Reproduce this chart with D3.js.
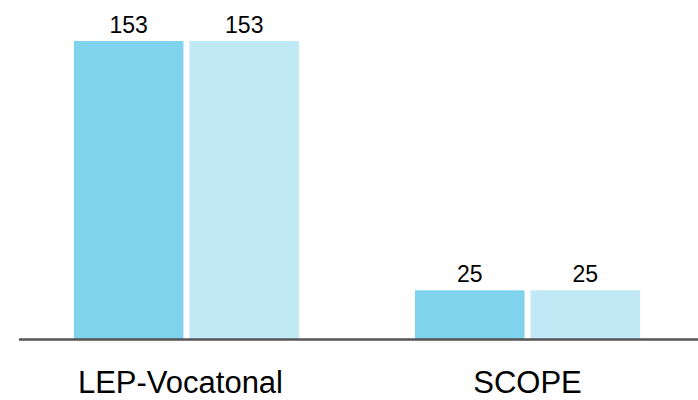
<!DOCTYPE html>
<html>
<head>
<meta charset="utf-8">
<script src="https://cdn.jsdelivr.net/npm/d3@7"></script>
<style>
  body { margin: 0; background: #fff; }
  text { font-family: "Liberation Sans", Arial, Helvetica, sans-serif; fill: #000; }
</style>
</head>
<body>
<script>
let categories = ["LEP-Vocatonal", "SCOPE"];
let seriesNames = ["series1", "series2"];
let series1 = [153, 25];
let series2 = [153, 25];
let colors = ["#7fd3ec", "#c0e8f5"];

let width = 698, height = 400;

let rows = categories.map((c, i) => ({
  category: c,
  values: [series1[i], series2[i]]
}));

let svg = d3.select("body").append("svg")
  .attr("width", width)
  .attr("height", height);

let x0 = d3.scaleBand()
  .domain(categories)
  .range([19, 695])
  .paddingInner(0.34)
  .paddingOuter(0.161);

let x1 = d3.scaleBand()
  .domain(seriesNames)
  .range([0, x0.bandwidth()])
  .paddingInner(0.052);

let y = d3.scaleLinear()
  .domain([0, 153])
  .range([339, 41]);

let groups = svg.selectAll("g.group")
  .data(rows)
  .enter().append("g")
  .attr("class", "group")
  .attr("transform", d => "translate(" + x0(d.category) + ",0)");

groups.selectAll("rect")
  .data(d => d.values.map((v, i) => ({ key: seriesNames[i], value: v, i: i })))
  .enter().append("rect")
  .attr("x", d => x1(d.key))
  .attr("y", d => y(d.value))
  .attr("width", x1.bandwidth())
  .attr("height", d => y(0) - y(d.value))
  .attr("fill", d => colors[d.i]);

groups.selectAll("text.value")
  .data(d => d.values.map((v, i) => ({ key: seriesNames[i], value: v })))
  .enter().append("text")
  .attr("class", "value")
  .attr("x", d => x1(d.key) + x1.bandwidth() / 2)
  .attr("y", d => Math.max(y(d.value) - 8, 28))
  .attr("text-anchor", "middle")
  .attr("font-size", 23)
  .text(d => d.value);

// baseline
svg.append("line")
  .attr("x1", 19)
  .attr("x2", width)
  .attr("y1", y(0) + 0.5)
  .attr("y2", y(0) + 0.5)
  .attr("stroke", "#555")
  .attr("stroke-width", 2.5);

// category labels
svg.append("g")
  .selectAll("text")
  .data(categories)
  .enter().append("text")
  .attr("x", d => x0(d) + x0.bandwidth() / 2 - (d === "LEP-Vocatonal" ? 6 : 0))
  .attr("y", 393)
  .attr("text-anchor", "middle")
  .attr("font-size", 31)
  .text(d => d);
</script>
</body>
</html>
